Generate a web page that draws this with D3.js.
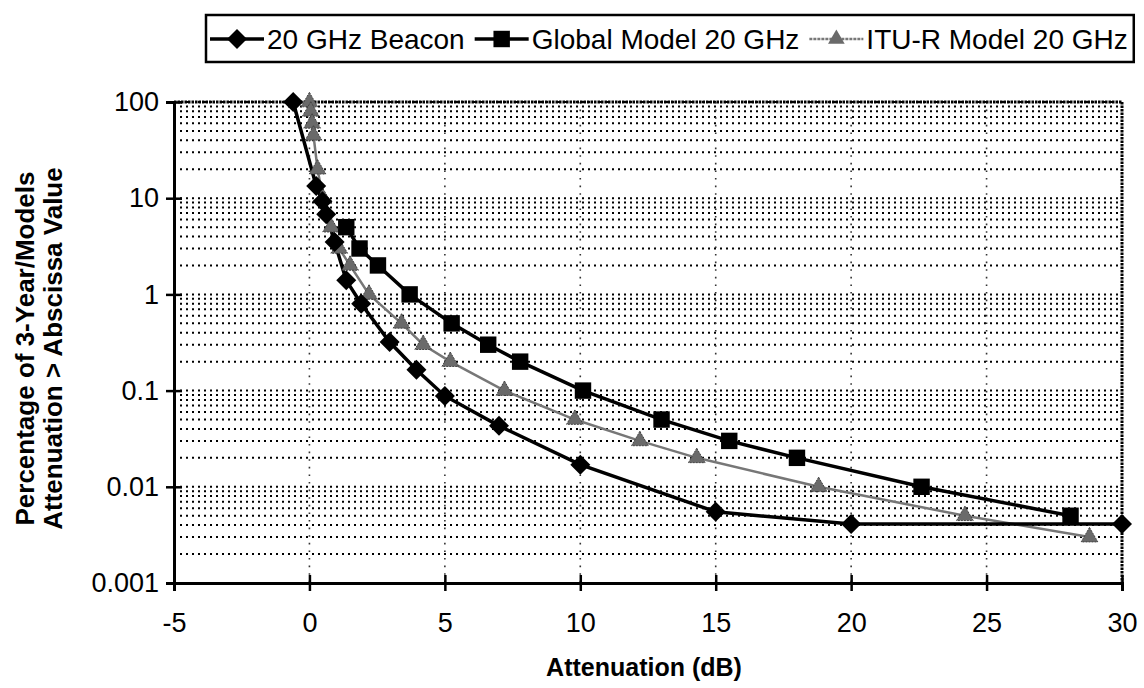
<!DOCTYPE html>
<html>
<head>
<meta charset="utf-8">
<script src="https://cdn.jsdelivr.net/npm/d3@7"></script>
<style>
  body { margin: 0; background: #fff; }
  svg { font-family: "Liberation Sans", Arial, sans-serif; }
</style>
</head>
<body>
<svg id="chart" width="1144" height="688"></svg>
<script>
// measured series (attenuation dB, percent of time)
var beaconX = [-0.6, 0.25, 0.48, 0.62, 0.93, 1.36, 1.91, 2.96, 3.95, 5, 7, 10, 15, 20, 30];
var beaconY = [100, 13.4, 9.3, 6.8, 3.5, 1.4, 0.8, 0.32, 0.165, 0.088, 0.043, 0.017, 0.0055, 0.0041, 0.0041];

var globalX = [1.36, 1.85, 2.53, 3.7, 5.25, 6.6, 7.78, 10.1, 13.0, 15.5, 18.0, 22.6, 28.1];
var globalY = [5, 3, 2, 1, 0.5, 0.3, 0.2, 0.1, 0.05, 0.03, 0.02, 0.01, 0.005];

var ituX = [0, 0.05, 0.1, 0.15, 0.3, 0.5, 0.8, 1.1, 1.5, 2.2, 3.4, 4.2, 5.2, 7.2, 9.8, 12.2, 14.3, 18.8, 24.2, 28.8];
var ituY = [100, 80, 60, 45, 20, 10, 5, 3, 2, 1, 0.5, 0.3, 0.2, 0.1, 0.05, 0.03, 0.02, 0.01, 0.005, 0.003];

var xTicks = [-5, 0, 5, 10, 15, 20, 25, 30];
var yTicks = [100, 10, 1, 0.1, 0.01, 0.001];
var yTickLabels = ["100", "10", "1", "0.1", "0.01", "0.001"];
var seriesNames = ["20 GHz Beacon", "Global Model 20 GHz", "ITU-R Model 20 GHz"];

var svg = d3.select("#chart"),
    margin = {top: 102, right: 22, bottom: 105, left: 174},
    width = +svg.attr("width") - margin.left - margin.right,
    height = +svg.attr("height") - margin.top - margin.bottom;

var x = d3.scaleLinear().domain([-5, 30]).range([0, width]),
    y = d3.scaleLog().domain([0.001, 100]).range([height, 0]);

var g = svg.append("g")
    .attr("transform", "translate(" + margin.left + "," + margin.top + ")");

// minor horizontal grid (2..9 within each decade, plus decades)
var minor = [];
for (var e = -3; e < 2; e++) {
  for (var m = 1; m < 10; m++) minor.push(m * Math.pow(10, e));
}
minor.push(100);

g.append("g").selectAll("line")
  .data(minor)
  .enter().append("line")
    .attr("x1", 0).attr("x2", width)
    .attr("y1", function(d) { return y(d); })
    .attr("y2", function(d) { return y(d); })
    .attr("stroke", "#000")
    .attr("stroke-width", 2)
    .attr("stroke-dasharray", "2,4");

// vertical grid
g.append("g").selectAll("line")
  .data(xTicks.slice(1, -1))
  .enter().append("line")
    .attr("x1", function(d) { return x(d); })
    .attr("x2", function(d) { return x(d); })
    .attr("y1", 0).attr("y2", height)
    .attr("stroke", "#333")
    .attr("stroke-width", 1.6)
    .attr("stroke-dasharray", "1.6,6");

// frame: top and right dotted-heavy
g.append("line").attr("x1", 0).attr("x2", width).attr("y1", 0).attr("y2", 0)
  .attr("stroke", "#000").attr("stroke-width", 3).attr("stroke-dasharray", "2.5,1");
g.append("line").attr("x1", width).attr("x2", width).attr("y1", 0).attr("y2", height)
  .attr("stroke", "#000").attr("stroke-width", 3).attr("stroke-dasharray", "2.5,1");

// axes
var xAxis = g.append("g")
    .attr("transform", "translate(0," + height + ")")
    .call(d3.axisBottom(x).tickValues(xTicks).tickSize(8).tickPadding(22)
      .tickFormat(function(d) { return d; }));
xAxis.select(".domain").attr("stroke-width", 3);
xAxis.selectAll(".tick line").attr("y1", -8).attr("stroke-width", 2.5);
xAxis.selectAll("text").attr("font-size", 27).attr("fill", "#000")
  .attr("font-family", "Liberation Sans, Arial, sans-serif");

var yAxis = g.append("g")
    .call(d3.axisLeft(y).tickValues(yTicks).tickSize(8).tickPadding(7)
      .tickFormat(function(d, i) { return yTickLabels[i]; }));
yAxis.select(".domain").attr("stroke-width", 3);
yAxis.selectAll(".tick line").attr("x1", 8).attr("stroke-width", 2.5);
yAxis.selectAll("text").attr("font-size", 27).attr("fill", "#000")
  .attr("font-family", "Liberation Sans, Arial, sans-serif");

// axis titles
svg.append("text")
  .attr("x", margin.left + x(12.5) - 4)
  .attr("y", 676)
  .attr("text-anchor", "middle")
  .attr("font-size", 25)
  .attr("font-weight", "bold")
  .text("Attenuation (dB)");

var yt = svg.append("text")
  .attr("transform", "translate(34," + (margin.top + height / 2 + 6) + ") rotate(-90)")
  .attr("text-anchor", "middle")
  .attr("font-size", 26)
  .attr("font-weight", "bold");
yt.append("tspan").attr("x", 0).attr("dy", 0).text("Percentage of 3-Year/Models");
yt.append("tspan").attr("x", 0).attr("dy", 28).text("Attenuation > Abscissa Value");

// series
var line = d3.line()
    .x(function(d) { return x(d[0]); })
    .y(function(d) { return y(d[1]); });

var beacon = d3.zip(beaconX, beaconY),
    global = d3.zip(globalX, globalY),
    itu = d3.zip(ituX, ituY);

var ituCol = "#777";

g.append("path").datum(itu)
  .attr("d", line).attr("fill", "none")
  .attr("stroke", ituCol).attr("stroke-width", 2.5);

g.append("path").datum(global)
  .attr("d", line).attr("fill", "none")
  .attr("stroke", "#000").attr("stroke-width", 3.5);

g.append("path").datum(beacon)
  .attr("d", line).attr("fill", "none")
  .attr("stroke", "#000").attr("stroke-width", 3.5);

// square-diamond marker (a rotated square, like the original)
var diamond = function() {
  var r = 10;
  return "M0," + (-r) + "L" + r + ",0L0," + r + "L" + (-r) + ",0Z";
};
var square = d3.symbol().type(d3.symbolSquare).size(270),
    triangle = d3.symbol().type(d3.symbolTriangle).size(120);

g.append("g").selectAll("path")
  .data(itu)
  .enter().append("path")
    .attr("d", triangle)
    .attr("transform", function(d) { return "translate(" + x(d[0]) + "," + y(d[1]) + ")"; })
    .attr("fill", "#6a6a6a").attr("stroke", "#444").attr("stroke-width", 1)
    .attr("stroke-dasharray", "2,1");

g.append("g").selectAll("path")
  .data(global)
  .enter().append("path")
    .attr("d", square)
    .attr("transform", function(d) { return "translate(" + x(d[0]) + "," + y(d[1]) + ")"; })
    .attr("fill", "#000");

g.append("g").selectAll("path")
  .data(beacon)
  .enter().append("path")
    .attr("d", diamond)
    .attr("transform", function(d) { return "translate(" + x(d[0]) + "," + y(d[1]) + ")"; })
    .attr("fill", "#000");

// legend
var leg = svg.append("g").attr("transform", "translate(206,15)");
var legBox = leg.append("rect")
  .attr("x", 0).attr("y", 0).attr("height", 47)
  .attr("fill", "#fff").attr("stroke", "#000").attr("stroke-width", 2.5);

var markers = [diamond, square, triangle];
var cx = 4;
seriesNames.forEach(function(name, i) {
  var col = i === 2 ? ituCol : "#000";
  leg.append("line")
    .attr("x1", cx).attr("x2", cx + 54).attr("y1", 24).attr("y2", 24)
    .attr("stroke", col).attr("stroke-width", i === 2 ? 2.5 : 3.5)
    .attr("stroke-dasharray", i === 2 ? "3,1" : null);
  leg.append("path")
    .attr("d", markers[i])
    .attr("transform", "translate(" + (cx + 27) + ",24)")
    .attr("fill", i === 2 ? "#6a6a6a" : "#000");
  var t = leg.append("text")
    .attr("x", cx + 57).attr("y", 34)
    .attr("font-size", 28)
    .text(name);
  cx += 57 + t.node().getComputedTextLength() + 10;
});
legBox.attr("width", cx - 4);
</script>
</body>
</html>
